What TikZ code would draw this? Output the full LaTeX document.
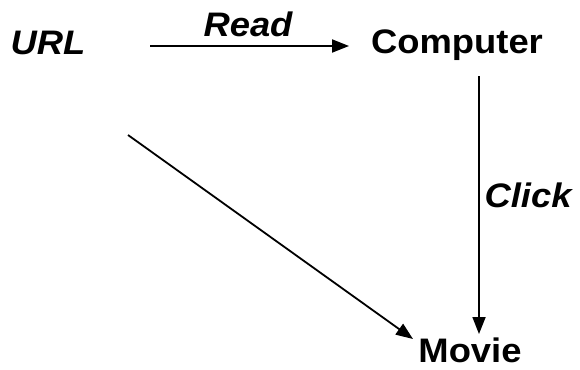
\documentclass[tikz,border=0pt]{standalone}
\usepackage{fontspec}
\setmainfont[FakeStretch=1.07]{Liberation Sans}
\usetikzlibrary{arrows.meta}
\begin{document}
\begin{tikzpicture}[x=1pt,y=-1pt,
  lbl/.style={anchor=base,inner sep=0pt,font=\fontsize{34}{40}\selectfont\bfseries},
  ilbl/.style={lbl,font=\fontsize{34}{40}\selectfont\bfseries\itshape},
  conn/.style={line width=1.8pt,-{Triangle[length=17pt,width=13pt]}}]
\useasboundingbox[fill=white] (0,0) rectangle (580,369);
\node[ilbl] (url) at (48,54) {URL};
\node[lbl] (computer) at (457,53) {Computer};
\node[lbl] (movie) at (470,362) {Movie};
\node[ilbl] (read) at (248,37) {Read};
\node[ilbl] (click) at (528,207) {Click};
\coordinate (a1) at (150,46);
\coordinate (a2) at (349,46);
\coordinate (b1) at (479,76);
\coordinate (b2) at (479,334);
\coordinate (c1) at (128,135);
\coordinate (c2) at (413,339);
\draw[conn] (a1) -- (a2);
\draw[conn] (b1) -- (b2);
\draw[conn] (c1) -- (c2);
\end{tikzpicture}
\end{document}
